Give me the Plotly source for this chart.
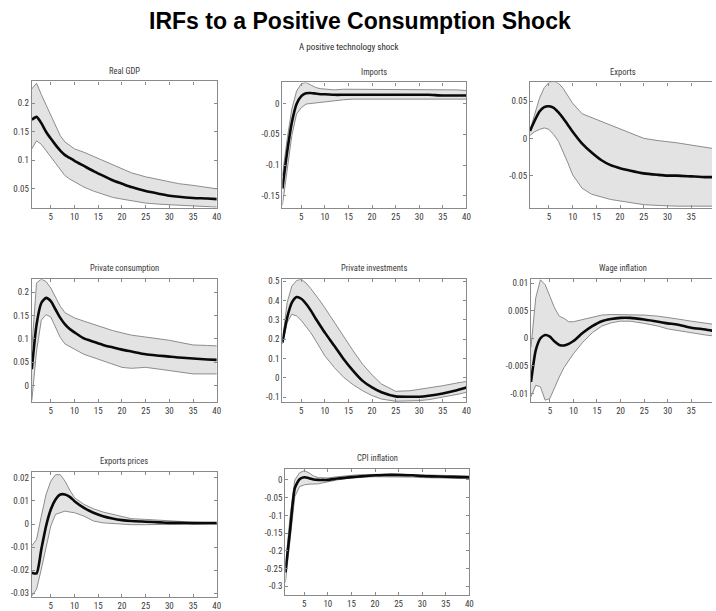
import plotly.graph_objects as go

W, H = 716, 611

# ---------------- data ----------------
periods = [1, 2, 3, 4, 5, 6, 7, 8, 9, 10, 12, 14, 16, 18, 20, 22, 25, 28, 30, 32, 35, 38, 40]

titles = ["Real GDP", "Imports", "Exports", "Private consumption", "Private investments",
          "Wage inflation", "Exports prices", "CPI inflation"]

gdp_mean = [0.171, 0.176, 0.165, 0.150, 0.138, 0.127, 0.117, 0.109, 0.104, 0.099, 0.090, 0.081, 0.073,
            0.065, 0.059, 0.053, 0.046, 0.041, 0.038, 0.036, 0.034, 0.033, 0.032]
gdp_upper = [0.225, 0.235, 0.215, 0.197, 0.181, 0.160, 0.143, 0.132, 0.126, 0.120, 0.114, 0.107, 0.100,
             0.092, 0.085, 0.078, 0.071, 0.066, 0.062, 0.059, 0.056, 0.053, 0.050]
gdp_lower = [0.120, 0.134, 0.128, 0.117, 0.106, 0.094, 0.082, 0.073, 0.067, 0.062, 0.053, 0.046, 0.040,
             0.035, 0.032, 0.029, 0.025, 0.023, 0.022, 0.021, 0.020, 0.019, 0.018]

imp_mean = [-0.138, -0.079, -0.031, -0.001, 0.012, 0.0165, 0.017, 0.016, 0.015, 0.015, 0.014, 0.014, 0.014,
            0.014, 0.014, 0.014, 0.014, 0.014, 0.014, 0.014, 0.013, 0.013, 0.013]
imp_upper = [-0.117, -0.058, -0.009, 0.020, 0.032, 0.034, 0.030, 0.026, 0.024, 0.023, 0.022, 0.023, 0.023,
             0.023, 0.023, 0.023, 0.023, 0.022, 0.022, 0.022, 0.022, 0.022, 0.021]
imp_lower = [-0.165, -0.106, -0.052, -0.017, -0.007, -0.001, 0.000, 0.001, 0.002, 0.003, 0.005, 0.006, 0.007,
             0.007, 0.007, 0.007, 0.007, 0.007, 0.007, 0.007, 0.007, 0.007, 0.007]

exp_mean = [0.010, 0.024, 0.036, 0.042, 0.043, 0.041, 0.035, 0.027, 0.018, 0.009, -0.007, -0.019, -0.029,
            -0.036, -0.040, -0.043, -0.047, -0.049, -0.050, -0.050, -0.051, -0.052, -0.052]
exp_upper = [0.011, 0.033, 0.054, 0.068, 0.075, 0.076, 0.074, 0.067, 0.057, 0.047, 0.033, 0.028, 0.022,
             0.017, 0.012, 0.007, 0.000, -0.003, -0.004, -0.006, -0.009, -0.012, -0.014]
exp_lower = [0.004, 0.009, 0.012, 0.014, 0.012, 0.005, -0.004, -0.018, -0.033, -0.049, -0.067, -0.075, -0.079,
             -0.082, -0.084, -0.086, -0.089, -0.090, -0.091, -0.091, -0.091, -0.091, -0.091]

cons_mean = [0.035, 0.131, 0.177, 0.188, 0.181, 0.163, 0.145, 0.131, 0.121, 0.114, 0.101, 0.094, 0.087,
             0.082, 0.077, 0.073, 0.067, 0.064, 0.062, 0.060, 0.058, 0.056, 0.055]
cons_upper = [0.080, 0.220, 0.228, 0.223, 0.209, 0.188, 0.170, 0.156, 0.150, 0.145, 0.138, 0.131, 0.124,
              0.118, 0.113, 0.108, 0.104, 0.100, 0.097, 0.093, 0.087, 0.086, 0.085]
cons_lower = [-0.032, 0.074, 0.140, 0.152, 0.147, 0.124, 0.103, 0.089, 0.083, 0.078, 0.067, 0.060, 0.053,
              0.046, 0.039, 0.037, 0.039, 0.035, 0.032, 0.029, 0.025, 0.025, 0.025]

inv_mean = [0.183, 0.311, 0.389, 0.418, 0.409, 0.383, 0.349, 0.308, 0.271, 0.234, 0.166, 0.097, 0.037,
            -0.015, -0.049, -0.074, -0.095, -0.097, -0.097, -0.092, -0.080, -0.063, -0.049]
inv_upper = [0.190, 0.389, 0.474, 0.503, 0.510, 0.490, 0.462, 0.431, 0.397, 0.362, 0.286, 0.209, 0.140,
             0.071, 0.016, -0.031, -0.069, -0.066, -0.059, -0.052, -0.040, -0.026, -0.018]
inv_lower = [0.174, 0.286, 0.329, 0.320, 0.297, 0.268, 0.234, 0.195, 0.155, 0.114, 0.054, 0.003, -0.035,
             -0.066, -0.091, -0.109, -0.120, -0.120, -0.117, -0.112, -0.100, -0.085, -0.074]

wage_mean = [-0.0079, -0.0022, 0.0000, 0.0006, 0.0003, -0.0006, -0.0012, -0.0013, -0.0010, -0.0005, 0.0010,
             0.0022, 0.0031, 0.0035, 0.0037, 0.0037, 0.0034, 0.0030, 0.0027, 0.0025, 0.0019, 0.0016, 0.0013]
wage_upper = [-0.0016, 0.0073, 0.0106, 0.0097, 0.0076, 0.0055, 0.0040, 0.0036, 0.0030, 0.0030, 0.0034,
              0.0038, 0.0042, 0.0043, 0.0043, 0.0043, 0.0042, 0.0040, 0.0037, 0.0035, 0.0031, 0.0027, 0.0025]
wage_lower = [-0.0106, -0.0085, -0.0088, -0.0112, -0.0109, -0.0088, -0.0070, -0.0053, -0.0040, -0.0028,
              -0.0007, 0.0010, 0.0022, 0.0028, 0.0031, 0.0031, 0.0027, 0.0022, 0.0017, 0.0014, 0.0010, 0.0006,
              0.0004]

xp_mean = [-0.0211, -0.0214, -0.0110, -0.0009, 0.0063, 0.0106, 0.0128, 0.0128, 0.0118, 0.0099, 0.0070,
           0.0049, 0.0034, 0.0024, 0.0017, 0.0013, 0.0010, 0.0007, 0.0005, 0.0005, 0.0004, 0.0004, 0.0004]
xp_upper = [-0.0095, -0.0067, 0.0034, 0.0128, 0.0186, 0.0214, 0.0214, 0.0186, 0.0147, 0.0114, 0.0085,
            0.0066, 0.0052, 0.0042, 0.0032, 0.0023, 0.0020, 0.0016, 0.0013, 0.0011, 0.0008, 0.0006, 0.0005]
xp_lower = [-0.0312, -0.0283, -0.0196, -0.0095, -0.0009, 0.0042, 0.0049, 0.0056, 0.0052, 0.0049, 0.0034,
            0.0013, 0.0005, 0.0003, -0.0002, -0.0003, -0.0003, -0.0003, -0.0003, -0.0002, 0.0000, 0.0002, 0.0003]

cpi_mean = [-0.261, -0.140, -0.023, 0.002, 0.0075, 0.005, 0.001, 0.000, 0.000, 0.000, 0.004, 0.0065, 0.009,
            0.011, 0.013, 0.014, 0.014, 0.013, 0.011, 0.010, 0.009, 0.008, 0.0075]
cpi_upper = [-0.242, -0.102, 0.000, 0.020, 0.026, 0.020, 0.011, 0.0065, 0.006, 0.0056, 0.009, 0.012, 0.014,
             0.015, 0.016, 0.017, 0.017, 0.015, 0.014, 0.013, 0.012, 0.011, 0.011]
cpi_lower = [-0.289, -0.168, -0.047, -0.019, -0.014, -0.012, -0.012, -0.011, -0.008, -0.005, 0.000, 0.004,
             0.0065, 0.008, 0.009, 0.009, 0.009, 0.008, 0.0065, 0.006, 0.005, 0.004, 0.004]

x_tick_vals = [5, 10, 15, 20, 25, 30, 35, 40]
x_tick_text = ["5", "10", "15", "20", "25", "30", "35", "40"]

y_tick_vals = [
    [0.05, 0.1, 0.15, 0.2],
    [-0.15, -0.1, -0.05, 0],
    [-0.05, 0, 0.05],
    [0, 0.05, 0.1, 0.15, 0.2],
    [-0.1, 0, 0.1, 0.2, 0.3, 0.4, 0.5],
    [-0.01, -0.005, 0, 0.005, 0.01],
    [-0.03, -0.02, -0.01, 0, 0.01, 0.02],
    [-0.3, -0.25, -0.2, -0.15, -0.1, -0.05, 0],
]
y_tick_text = [
    ["0.05", "0.1", "0.15", "0.2"],
    ["-0.15", "-0.1", "-0.05", "0"],
    ["-0.05", "0", "0.05"],
    ["0", "0.05", "0.1", "0.15", "0.2"],
    ["-0.1", "0", "0.1", "0.2", "0.3", "0.4", "0.5"],
    ["-0.01", "-0.005", "0", "0.005", "0.01"],
    ["-0.03", "-0.02", "-0.01", "0", "0.01", "0.02"],
    ["-0.3", "-0.25", "-0.2", "-0.15", "-0.1", "-0.05", "0"],
]

series = [
    (gdp_lower, gdp_upper, gdp_mean),
    (imp_lower, imp_upper, imp_mean),
    (exp_lower, exp_upper, exp_mean),
    (cons_lower, cons_upper, cons_mean),
    (inv_lower, inv_upper, inv_mean),
    (wage_lower, wage_upper, wage_mean),
    (xp_lower, xp_upper, xp_mean),
    (cpi_lower, cpi_upper, cpi_mean),
]

# ---------------- layout (pixel boxes) ----------------
boxes = [  # left, right, top, bottom in px
    (32, 218, 79, 206),
    (284, 469, 80, 206),
    (533, 716, 80, 206),
    (32, 218, 278, 402),
    (284, 469, 278, 402),
    (534, 716, 278, 402),
    (32, 218, 472, 598),
    (287, 472, 469, 596),
]
y_ranges = [
    [0.017, 0.238],
    [-0.169, 0.034],
    [-0.093, 0.075],
    [-0.036, 0.228],
    [-0.126, 0.51],
    [-0.0116, 0.0107],
    [-0.0317, 0.0226],
    [-0.325, 0.031],
]
x_ranges = [[1, 40], [1, 40], [1, 39.4], [1, 40], [1, 40], [1, 39.4], [1, 40], [1, 40]]
cut_right = [False, False, True, False, False, True, False, False]

NARROW = "Liberation Sans Narrow, Arial Narrow, Roboto Condensed, DejaVu Sans Condensed, Liberation Sans, sans-serif"
FRAME = "#8a8a8a"
BAND = "#8c8c8c"
FILL = "#e3e3e3"

fig = go.Figure()
annotations = []
layout_axes = {}

for i, ((lo, up, me), box) in enumerate(zip(series, boxes)):
    n = i + 1
    xa = "x" if n == 1 else f"x{n}"
    ya = "y" if n == 1 else f"y{n}"
    fig.add_trace(go.Scatter(x=periods, y=lo, xaxis=xa, yaxis=ya, mode="lines",
                             line=dict(color=BAND, width=1), showlegend=False, hoverinfo="skip"))
    fig.add_trace(go.Scatter(x=periods, y=up, xaxis=xa, yaxis=ya, mode="lines", fill="tonexty",
                             fillcolor=FILL, line=dict(color=BAND, width=1), showlegend=False,
                             hoverinfo="skip"))
    fig.add_trace(go.Scatter(x=periods, y=me, xaxis=xa, yaxis=ya, mode="lines",
                             line=dict(color="#0a0a0a", width=2.6, shape="spline", smoothing=0.6),
                             showlegend=False))
    l, r, t, b = box
    xkey = "xaxis" if n == 1 else f"xaxis{n}"
    ykey = "yaxis" if n == 1 else f"yaxis{n}"
    layout_axes[xkey] = dict(
        domain=[l / W, r / W], anchor=ya, range=x_ranges[i],
        tickvals=x_tick_vals, ticktext=x_tick_text, ticks="inside", ticklen=3,
        tickcolor=FRAME, showline=True, linecolor=FRAME, linewidth=1.2,
        mirror="allticks", showgrid=False, zeroline=False,
        tickfont=dict(family=NARROW, size=9, color="#3a3a3a"),
    )
    layout_axes[ykey] = dict(
        domain=[1 - b / H, 1 - t / H], anchor=xa, range=y_ranges[i],
        tickvals=y_tick_vals[i], ticktext=y_tick_text[i], ticks="inside", ticklen=3,
        tickcolor=FRAME, showline=True, linecolor=FRAME, linewidth=1.2,
        mirror=False if cut_right[i] else "allticks", showgrid=False, zeroline=False,
        tickfont=dict(family=NARROW, size=9, color="#3a3a3a"),
    )
    annotations.append(dict(
        text=titles[i], xref="paper", yref="paper",
        x=((l + min(r, 716)) / 2 if not cut_right[i] else (l + l + 186) / 2) / W,
        y=1 - (t - 11) / H, xanchor="center", yanchor="middle", showarrow=False,
        font=dict(family=NARROW, size=8.5, color="#3a3a3a"),
    ))

annotations.append(dict(
    text="A positive technology shock", xref="paper", yref="paper",
    x=350 / W, y=1 - 44 / H, xanchor="center", yanchor="middle", showarrow=False,
    font=dict(family=NARROW, size=9, color="#2a2a2a"),
))
annotations.append(dict(
    text="<b>IRFs to a Positive Consumption Shock</b>", xref="paper", yref="paper",
    x=362 / W, y=1 - 18 / H, xanchor="center", yanchor="middle", showarrow=False,
    font=dict(family="Liberation Sans, Arial, sans-serif", size=23, color="#000000"),
))

fig.update_layout(
    width=W, height=H, margin=dict(l=0, r=0, t=0, b=0),
    paper_bgcolor="white", plot_bgcolor="white",
    annotations=annotations, showlegend=False,
    **layout_axes,
)

fig.write_html("out.html")
